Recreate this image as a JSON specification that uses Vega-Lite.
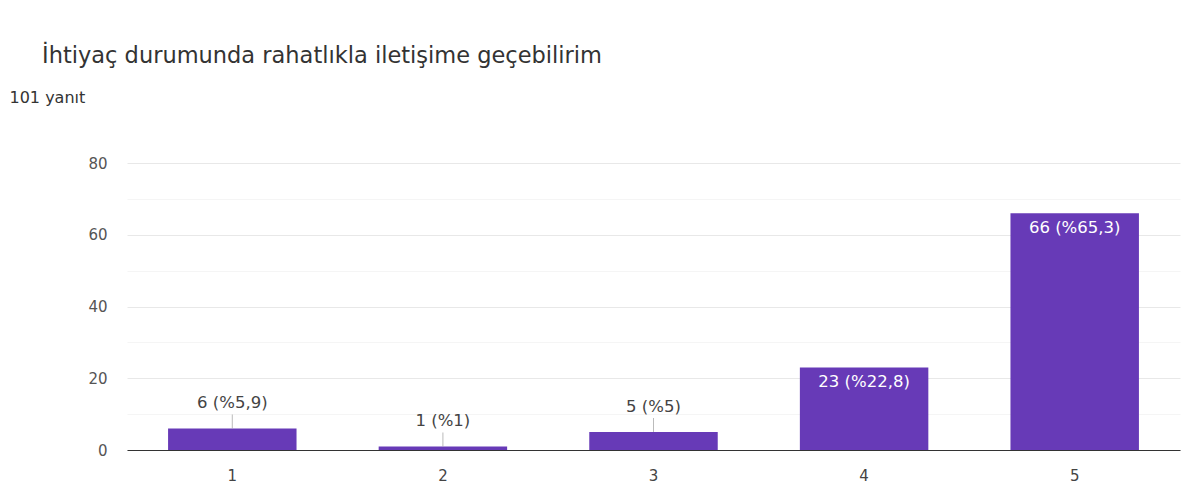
{
  "$schema": "https://vega.github.io/schema/vega-lite/v6.json",
  "width": 1053,
  "height": 287,
  "autosize": "none",
  "padding": {"left": 127, "top": 163, "right": 19, "bottom": 40},
  "background": "#ffffff",
  "config": {"view": {"stroke": null}, "font": "DejaVu Sans"},
  "title": {
    "text": "İhtiyaç durumunda rahatlıkla iletişime geçebilirim",
    "anchor": "start",
    "frame": "group",
    "dx": -85,
    "offset": 22,
    "font": "DejaVu Sans",
    "fontSize": 22.5,
    "fontWeight": "normal",
    "color": "#333333"
  },
  "data": {
    "values": [
      {"option": "1", "count": 6, "label": "6 (%5,9)"},
      {"option": "2", "count": 1, "label": "1 (%1)"},
      {"option": "3", "count": 5, "label": "5 (%5)"},
      {"option": "4", "count": 23, "label": "23 (%22,8)"},
      {"option": "5", "count": 66, "label": "66 (%65,3)"}
    ]
  },
  "encoding": {
    "x": {
      "field": "option",
      "type": "nominal",
      "sort": null,
      "scale": {"paddingInner": 0.39, "paddingOuter": 0.195},
      "axis": {
        "title": null,
        "labelAngle": 0,
        "ticks": false,
        "domainColor": "#333333",
        "domainWidth": 1,
        "labelColor": "#444444",
        "labelFontSize": 15,
        "labelPadding": 18,
        "labelFont": "DejaVu Sans"
      }
    },
    "y": {
      "field": "count",
      "type": "quantitative",
      "scale": {"domain": [0, 80], "nice": false},
      "axis": {
        "values": [0, 10, 20, 30, 40, 50, 60, 70, 80],
        "labelExpr": "datum.value % 20 === 0 ? datum.label : ''",
        "gridColor": {"condition": {"test": "datum.value % 20 === 0", "value": "#e8e8e8"}, "value": "#f5f5f5"},
        "domain": false,
        "ticks": false,
        "labelPadding": 20,
        "labelColor": "#555555",
        "labelFontSize": 15,
        "labelFont": "DejaVu Sans",
        "title": "101 yanıt",
        "titleAngle": 0,
        "titleAlign": "left",
        "titleBaseline": "middle",
        "titleX": -118,
        "titleY": -66,
        "titleFontSize": 16,
        "titleFontWeight": "normal",
        "titleColor": "#333333",
        "titleFont": "DejaVu Sans"
      }
    }
  },
  "layer": [
    {"mark": {"type": "bar", "color": "#673ab7"}},
    {
      "transform": [{"filter": "datum.count < 20"}],
      "mark": {"type": "tick", "orient": "vertical", "size": 14, "thickness": 1, "yOffset": -7, "color": "#9e9e9e"}
    },
    {
      "transform": [{"filter": "datum.count < 20"}],
      "mark": {"type": "text", "baseline": "middle", "dy": -25, "fontSize": 16.5, "color": "#444444", "font": "DejaVu Sans"},
      "encoding": {"text": {"field": "label"}}
    },
    {
      "transform": [{"filter": "datum.count >= 20"}],
      "mark": {"type": "text", "baseline": "middle", "dy": 15, "fontSize": 16.5, "color": "#ffffff", "font": "DejaVu Sans"},
      "encoding": {"text": {"field": "label"}}
    }
  ]
}
